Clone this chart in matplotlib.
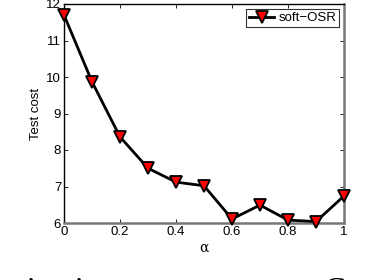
import matplotlib
matplotlib.use("Agg")
import matplotlib.pyplot as plt

alpha = [0.0, 0.1, 0.2, 0.3, 0.4, 0.5, 0.6, 0.7, 0.8, 0.9, 1.0]
test_cost = [11.70, 9.87, 8.36, 7.50, 7.12, 7.02, 6.11, 6.49, 6.08, 6.04, 6.74]
xticks = [0, 0.2, 0.4, 0.6, 0.8, 1]
xtick_labels = ["0", "0.2", "0.4", "0.6", "0.8", "1"]
yticks = [6, 7, 8, 9, 10, 11, 12]
series_label = "soft\u2212OSR"

plt.rcParams['font.family'] = ['Liberation Sans', 'DejaVu Sans']

fig = plt.figure(figsize=(3.86, 2.80), dpi=100)
ax = fig.add_axes([64/386, 1 - 223/280, (344-64)/386, (223-4)/280])

ax.plot(alpha, test_cost, color='black', linewidth=2.0, marker='v',
        markersize=8, markerfacecolor='red', markeredgecolor='black',
        markeredgewidth=1.3, label=series_label, clip_on=False, zorder=3)

ax.set_xlim(0, 1)
ax.set_ylim(6, 12)
ax.set_xticks(xticks)
ax.set_xticklabels(xtick_labels)
ax.set_yticks(yticks)
ax.tick_params(direction='in', length=3, width=0.6, labelsize=9.5, pad=2,
               top=True, right=True)
for s in ['left', 'top']:
    ax.spines[s].set_color('black')
    ax.spines[s].set_linewidth(1.0)
for s in ['right', 'bottom']:
    ax.spines[s].set_color('#777777')
    ax.spines[s].set_linewidth(1.8)

ax.set_xlabel("\u03b1", fontsize=10, family=['DejaVu Serif'], labelpad=2)
ax.set_ylabel("Test cost", fontsize=9.5, labelpad=3)

leg = ax.legend(loc='upper right', fontsize=9.5, frameon=True, fancybox=False,
                borderpad=0.25, handlelength=1.9, handletextpad=0.3,
                borderaxespad=0.35)
leg.get_frame().set_edgecolor('black')
leg.get_frame().set_linewidth(0.8)

fig.text(-14/386, 1 - 277/280, "derivation parameter \u03b1 on Co",
         fontsize=23, family=['Liberation Serif', 'DejaVu Serif'],
         va='top', ha='left')

fig.savefig("out.png", dpi=100)
